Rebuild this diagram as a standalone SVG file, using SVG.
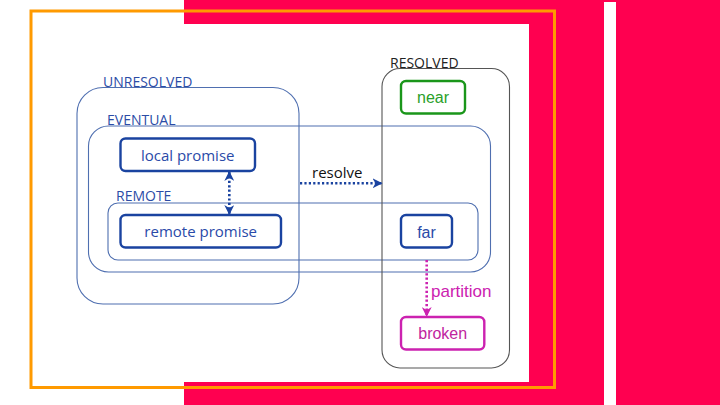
<svg xmlns="http://www.w3.org/2000/svg" width="720" height="405" viewBox="0 0 720 405">
<defs>
<style>
.grp{fill:none;stroke:#4f6fb0;stroke-width:1.1}
.res{fill:none;stroke:#555;stroke-width:1.1}
.glab{font-family:"Open Sans","Liberation Sans",sans-serif;font-size:14px;fill:#2c4ca6}
.node rect{fill:#fff;stroke-width:2.4}
.bn rect{stroke:#1a43a0}
.bn text{font-family:"Open Sans","Liberation Sans",sans-serif;font-size:15px;fill:#2a4aa8;text-anchor:middle}
.an text{font-family:"Liberation Sans",Arial,sans-serif;font-size:16px;text-anchor:middle}
.dot{fill:none;stroke-width:2.6;stroke-dasharray:2.2 2.2}
</style>
<marker id="ab" viewBox="0 0 10 10" refX="9" refY="5" markerWidth="10" markerHeight="10" markerUnits="userSpaceOnUse" orient="auto-start-reverse">
<path d="M0,0 L10,5 L0,10 L3,5 Z" fill="#1a43a0"/>
</marker>
<marker id="am" viewBox="0 0 10 10" refX="9" refY="5" markerWidth="10" markerHeight="10" markerUnits="userSpaceOnUse" orient="auto-start-reverse">
<path d="M0,0 L10,5 L0,10 L3,5 Z" fill="#cc22b0"/>
</marker>
</defs>
<rect width="720" height="405" fill="#fff"/>
<g id="background">
<rect x="184" y="0" width="536" height="405" fill="#ff0050"/>
<rect x="184" y="24" width="345" height="358" fill="#fff"/>
<rect x="604" y="2" width="12" height="403" fill="#fff"/>
</g>
<g id="unresolved">
<rect class="grp" x="77" y="87.5" width="222" height="216.5" rx="26"/>
<text class="glab" x="103" y="87">UNRESOLVED</text>
</g>
<g id="eventual">
<rect class="grp" x="88.5" y="126" width="402" height="146" rx="20"/>
<text class="glab" x="107" y="125">EVENTUAL</text>
</g>
<g id="remote">
<rect class="grp" x="108" y="203" width="370" height="57" rx="10"/>
<text class="glab" x="116" y="201">REMOTE</text>
</g>
<g id="resolved">
<rect class="res" x="382" y="68.5" width="127.5" height="299.5" rx="18"/>
<text class="glab" x="390" y="67.5" style="fill:#222">RESOLVED</text>
</g>
<g id="connectors">
<line class="dot" x1="229.3" y1="172" x2="229.3" y2="214" stroke="#1a43a0" marker-start="url(#ab)" marker-end="url(#ab)"/>
<line class="dot" x1="300" y1="183.3" x2="381.5" y2="183.3" stroke="#1a43a0" marker-end="url(#ab)"/>
<text x="312" y="178" style="font-family:'Open Sans','Liberation Sans',sans-serif;font-size:15px;fill:#111">resolve</text>
<line class="dot" x1="426.7" y1="260" x2="426.7" y2="316" stroke="#cc22b0" marker-end="url(#am)"/>
<text x="431" y="296.7" style="font-family:'Liberation Sans',Arial,sans-serif;font-size:17px;fill:#cc22b0">partition</text>
</g>
<g id="local-promise" class="node bn">
<rect x="120.5" y="138.5" width="134.5" height="32.5" rx="5"/>
<text x="187.7" y="161">local promise</text>
</g>
<g id="remote-promise" class="node bn">
<rect x="120.5" y="215" width="160.5" height="32.5" rx="5"/>
<text x="200.7" y="237.3">remote promise</text>
</g>
<g id="far" class="node bn">
<rect x="401" y="215" width="51" height="32.5" rx="5"/>
<text x="426.5" y="237.7" style="font-family:'Liberation Sans',Arial,sans-serif;font-size:16px">far</text>
</g>
<g id="near" class="node an">
<rect x="401" y="81" width="64" height="32.5" rx="5" stroke="#1a961a"/>
<text x="433" y="103.3" fill="#2aa02a">near</text>
</g>
<g id="broken" class="node an">
<rect x="401" y="317" width="83.3" height="32.5" rx="5" stroke="#cc22b0"/>
<text x="442.7" y="339.3" fill="#c0259e">broken</text>
</g>
<rect id="frame" x="31" y="11" width="523.5" height="376.5" fill="none" stroke="#ff9a00" stroke-width="3"/>
</svg>
